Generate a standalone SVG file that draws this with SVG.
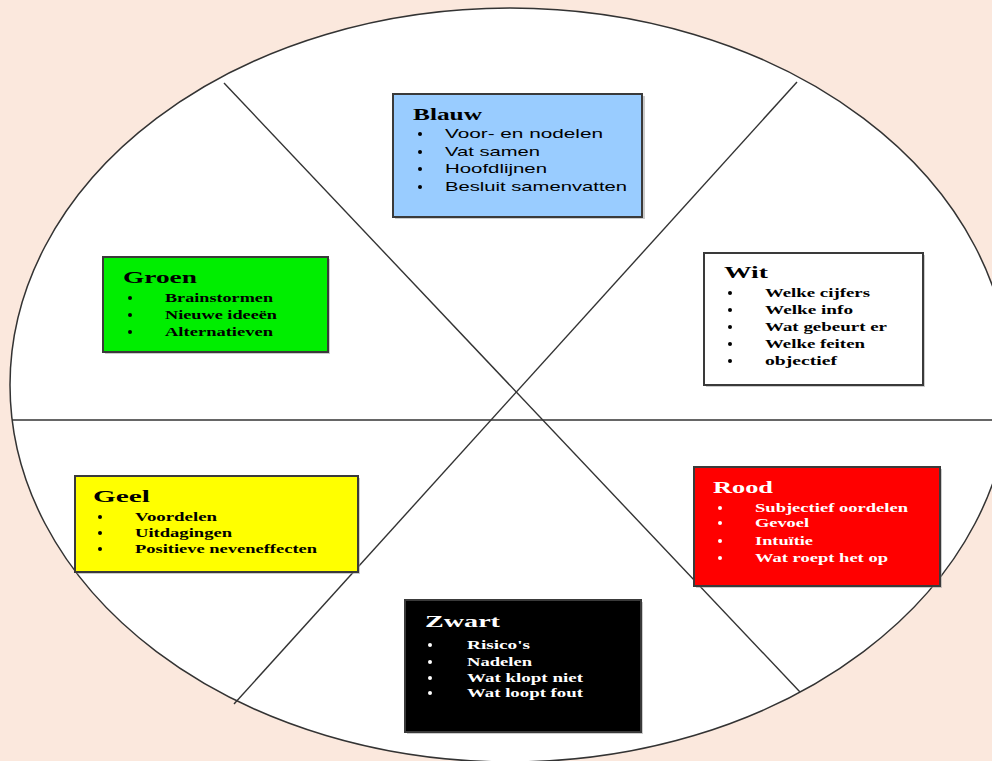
<svg xmlns="http://www.w3.org/2000/svg" width="992" height="761" viewBox="0 0 992 761">
<style>
.bg{fill:#FBE8DD}
.ring{fill:#ffffff;stroke:#333333;stroke-width:1.5}
.cut{stroke:#333333;stroke-width:1.4;fill:none}
.box{stroke:#3a3a3a;stroke-width:2}
.shadow{fill:#9a9a9a;opacity:0.5}
.title{font-family:"Liberation Serif","Times New Roman",serif;font-weight:bold;font-size:17px}
.itm{font-family:"Liberation Serif","Times New Roman",serif;font-weight:bold;font-size:13px}
.itms{font-family:"Liberation Sans",Arial,sans-serif;font-size:13px}
.dk{fill:#000000}
.lt{fill:#ffffff}
</style>
<rect class="bg" x="0" y="0" width="992" height="761"/>
<ellipse class="ring" cx="510" cy="385" rx="500" ry="377"/>
<g id="connectors">
<line class="cut" x1="12" y1="420" x2="992" y2="420"/>
<line class="cut" x1="224" y1="83" x2="800" y2="692"/>
<line class="cut" x1="797" y1="82" x2="234" y2="704"/>
</g>
<g id="blauw">
<rect class="shadow" x="395" y="96" width="250" height="123"/>
<rect class="box" x="393" y="94" width="249" height="123" fill="#99CCFF"/>
<text class="title dk" x="413" y="120" textLength="69" lengthAdjust="spacingAndGlyphs">Blauw</text>
<g class="dk"><circle cx="420" cy="134" r="2"/><circle cx="420" cy="152" r="2"/><circle cx="420" cy="169" r="2"/><circle cx="420" cy="187" r="2"/></g>
<text class="itms dk" x="445" y="138" textLength="158" lengthAdjust="spacingAndGlyphs">Voor- en nodelen</text>
<text class="itms dk" x="445" y="156" textLength="95" lengthAdjust="spacingAndGlyphs">Vat samen</text>
<text class="itms dk" x="445" y="173" textLength="102" lengthAdjust="spacingAndGlyphs">Hoofdlijnen</text>
<text class="itms dk" x="445" y="191" textLength="182" lengthAdjust="spacingAndGlyphs">Besluit samenvatten</text>
</g>
<g id="groen">
<rect class="shadow" x="105" y="259" width="225" height="95"/>
<rect class="box" x="103" y="257" width="225" height="95" fill="#00EE00"/>
<text class="title dk" x="123" y="283" textLength="74" lengthAdjust="spacingAndGlyphs">Groen</text>
<g class="dk"><circle cx="130" cy="298" r="2"/><circle cx="130" cy="315" r="2"/><circle cx="130" cy="332" r="2"/></g>
<text class="itm dk" x="165" y="302" textLength="108" lengthAdjust="spacingAndGlyphs">Brainstormen</text>
<text class="itm dk" x="165" y="319" textLength="112" lengthAdjust="spacingAndGlyphs">Nieuwe ideeën</text>
<text class="itm dk" x="165" y="336" textLength="108" lengthAdjust="spacingAndGlyphs">Alternatieven</text>
</g>
<g id="wit">
<rect class="shadow" x="706" y="255" width="219" height="132"/>
<rect class="box" x="704" y="253" width="219" height="132" fill="#ffffff"/>
<text class="title dk" x="724" y="278" textLength="44" lengthAdjust="spacingAndGlyphs">Wit</text>
<g class="dk"><circle cx="730" cy="293" r="2"/><circle cx="730" cy="310" r="2"/><circle cx="730" cy="327" r="2"/><circle cx="730" cy="344" r="2"/><circle cx="730" cy="361" r="2"/></g>
<text class="itm dk" x="765" y="297" textLength="105" lengthAdjust="spacingAndGlyphs">Welke cijfers</text>
<text class="itm dk" x="765" y="314" textLength="88" lengthAdjust="spacingAndGlyphs">Welke info</text>
<text class="itm dk" x="765" y="331" textLength="122" lengthAdjust="spacingAndGlyphs">Wat gebeurt er</text>
<text class="itm dk" x="765" y="348" textLength="100" lengthAdjust="spacingAndGlyphs">Welke feiten</text>
<text class="itm dk" x="765" y="365" textLength="72" lengthAdjust="spacingAndGlyphs">objectief</text>
</g>
<g id="geel">
<rect class="shadow" x="77" y="478" width="283" height="96"/>
<rect class="box" x="75" y="476" width="283" height="96" fill="#FFFF00"/>
<text class="title dk" x="93" y="502" textLength="57" lengthAdjust="spacingAndGlyphs">Geel</text>
<g class="dk"><circle cx="100" cy="517" r="2"/><circle cx="100" cy="533" r="2"/><circle cx="100" cy="549" r="2"/></g>
<text class="itm dk" x="135" y="521" textLength="82" lengthAdjust="spacingAndGlyphs">Voordelen</text>
<text class="itm dk" x="135" y="537" textLength="97" lengthAdjust="spacingAndGlyphs">Uitdagingen</text>
<text class="itm dk" x="135" y="553" textLength="182" lengthAdjust="spacingAndGlyphs">Positieve neveneffecten</text>
</g>
<g id="rood">
<rect class="shadow" x="696" y="469" width="246" height="119"/>
<rect class="box" x="694" y="467" width="246" height="119" fill="#FF0000"/>
<text class="title lt" x="713" y="493" textLength="60" lengthAdjust="spacingAndGlyphs">Rood</text>
<g class="lt"><circle cx="720" cy="508" r="2"/><circle cx="720" cy="523" r="2"/><circle cx="720" cy="541" r="2"/><circle cx="720" cy="558" r="2"/></g>
<text class="itm lt" x="755" y="512" textLength="153" lengthAdjust="spacingAndGlyphs">Subjectief oordelen</text>
<text class="itm lt" x="755" y="527" textLength="54" lengthAdjust="spacingAndGlyphs">Gevoel</text>
<text class="itm lt" x="755" y="545" textLength="58" lengthAdjust="spacingAndGlyphs">Intuïtie</text>
<text class="itm lt" x="755" y="562" textLength="133" lengthAdjust="spacingAndGlyphs">Wat roept het op</text>
</g>
<g id="zwart">
<rect class="shadow" x="407" y="602" width="236" height="132"/>
<rect class="box" x="405" y="600" width="236" height="132" fill="#000000"/>
<text class="title lt" x="425" y="627" textLength="75" lengthAdjust="spacingAndGlyphs">Zwart</text>
<g class="lt"><circle cx="430" cy="645" r="2"/><circle cx="430" cy="662" r="2"/><circle cx="430" cy="678" r="2"/><circle cx="430" cy="693" r="2"/></g>
<text class="itm lt" x="467" y="649" textLength="63" lengthAdjust="spacingAndGlyphs">Risico's</text>
<text class="itm lt" x="467" y="666" textLength="65" lengthAdjust="spacingAndGlyphs">Nadelen</text>
<text class="itm lt" x="467" y="682" textLength="116" lengthAdjust="spacingAndGlyphs">Wat klopt niet</text>
<text class="itm lt" x="467" y="697" textLength="116" lengthAdjust="spacingAndGlyphs">Wat loopt fout</text>
</g>
</svg>
